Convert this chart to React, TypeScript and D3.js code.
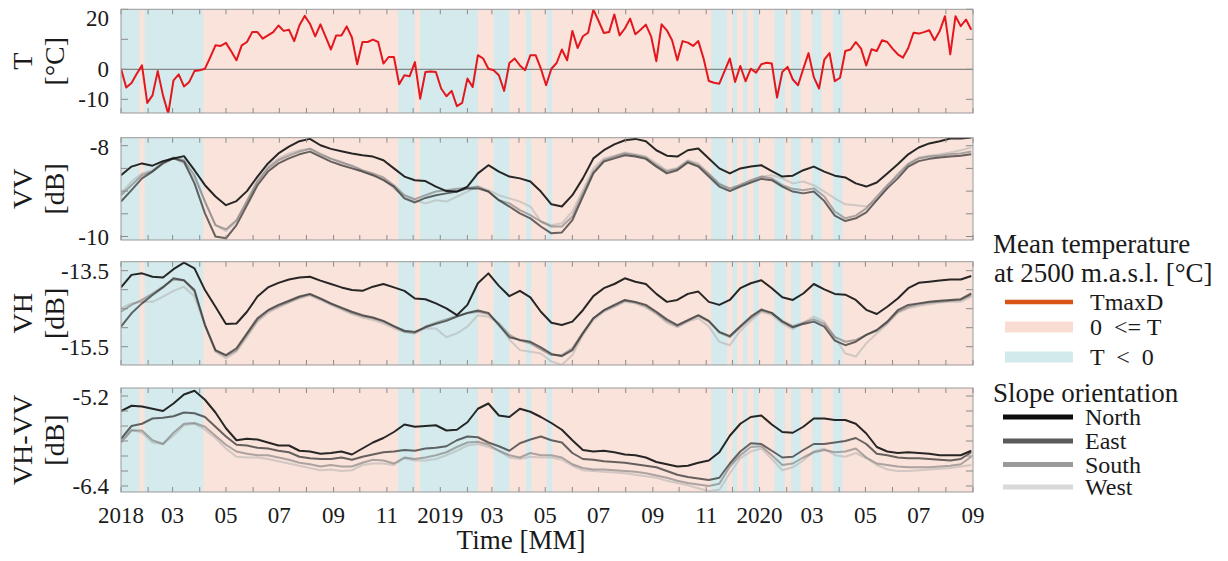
import React, { useEffect, useRef } from 'react';
import * as d3 from 'd3';

const WIDTH = 1228;
const HEIGHT = 561;
const FONT = "'Liberation Serif', 'Times New Roman', serif";

// time axis: Jan 2018 .. Sep 2020
const startDate = new Date(2018, 0, 1);
const endDate = new Date(2020, 8, 1);

// mean air temperature [°C], one value every 6 days from startDate
const tempValues = [
  0.2, -6.1, -4.6, -1.5, 1.3, -11.2, -8.7, -0.6, -8.7, -14.8,
  -3.7, -1.7, -5.7, -4.2, -0.6, -0.3, 0.2, 4, 8, 7.8,
  8.8, 6, 3, 8, 9.1, 12.4, 12.4, 10.2, 11.3, 12.4,
  14.6, 12.8, 13.2, 9.4, 14.7, 17.8, 15.2, 11, 15, 10.8,
  6.6, 11.3, 11.3, 14.3, 10.6, 1.7, 9.1, 9.1, 9.9, 9.1,
  1.9, 4.1, 4.1, -5, -2, -2.3, 2.4, -9.8, -0.9, -0.7,
  -0.9, -6.4, -9, -7.2, -12.3, -11.2, -3.1, -5.9,
  4.7, 3.6, 0.2, -0.3, -2, -7.2, 2.1, 3.6, 1.3, -0.3,
  4.7, 4.7, 0.2, -5.3, 0.2, 2.1, 6.6, 3, 12.8, 7.1,
  11, 12.2, 19.9, 16.1, 12.1, 12.4, 18.3, 11.3, 13.6, 16.9,
  11.7, 13.2, 14.9, 11, 2.7, 15, 13, 9.7, 3, 9.4,
  8.9, 7.8, 9.4, 3.6, -3.9, -4.5, -4.8, -0.6, 3.6, -4.2, 1.1,
  -4, 0.2, -1.1, 1.7, 2.2, 1.9, -9.4, -0.9, 0.8, -3.4,
  -5.3, 0.2, 5.4, -2.6, -6.4, 3.2, 5.4, -4, -2.8, 6.1,
  6.6, 9.1, 6.9, 1.3, 6.7, 6.1, 9.7, 9.1, 6.9, 5,
  3.9, 7.1, 12.2, 11.9, 12.4, 13, 9.7, 12.8, 17.7, 5,
  17.7, 14.4, 16.6, 13.2
];

// periods where T < 0
const coldPeriods = [
  ['2018-01-01', '2018-01-22'],
  ['2018-01-28', '2018-04-05'],
  ['2018-11-14', '2018-12-03'],
  ['2018-12-09', '2019-02-13'],
  ['2019-03-03', '2019-03-21'],
  ['2019-04-09', '2019-04-15'],
  ['2019-05-03', '2019-05-09'],
  ['2019-11-07', '2019-11-25'],
  ['2019-12-01', '2019-12-06'],
  ['2019-12-13', '2019-12-18'],
  ['2019-12-25', '2019-12-31'],
  ['2020-01-18', '2020-01-30'],
  ['2020-02-06', '2020-02-17'],
  ['2020-03-01', '2020-03-12'],
  ['2020-03-25', '2020-04-05']
];

// backscatter [dB] per slope orientation, one value every 12 days from startDate
const vvNorth = [
  -8.65, -8.46, -8.39, -8.44, -8.34, -8.28, -8.23, -8.54, -8.87, -9.12,
  -9.31, -9.22, -9.00, -8.68, -8.39, -8.17, -8.02, -7.90, -7.85, -7.99,
  -8.07, -8.12, -8.17, -8.21, -8.24, -8.32, -8.50, -8.68, -8.76, -8.78,
  -8.90, -9.00, -9.01, -8.90, -8.61, -8.43, -8.57, -8.68, -8.72, -8.79,
  -9.01, -9.29, -9.34, -9.09, -8.72, -8.28, -8.10, -7.97, -7.88, -7.85,
  -7.90, -8.10, -8.22, -8.24, -8.10, -8.06, -8.28, -8.50, -8.61, -8.50,
  -8.46, -8.43, -8.56, -8.68, -8.66, -8.54, -8.46, -8.57, -8.66, -8.70,
  -8.83, -8.90, -8.81, -8.61, -8.41, -8.19, -8.04, -7.95, -7.90, -7.84,
  -7.84, -7.82
];
const vvEast = [
  -9.23, -8.98, -8.72, -8.57, -8.39, -8.28, -8.35, -8.83, -9.49, -10.00,
  -10.04, -9.75, -9.31, -8.87, -8.57, -8.39, -8.28, -8.19, -8.13, -8.24,
  -8.35, -8.43, -8.50, -8.57, -8.65, -8.76, -8.90, -9.16, -9.25, -9.15,
  -9.09, -9.05, -9.01, -8.94, -8.94, -9.01, -9.20, -9.34, -9.49, -9.60,
  -9.78, -9.93, -9.91, -9.64, -9.12, -8.61, -8.35, -8.28, -8.21, -8.24,
  -8.29, -8.46, -8.61, -8.54, -8.37, -8.46, -8.68, -8.90, -9.00, -8.90,
  -8.81, -8.73, -8.76, -8.90, -9.01, -9.05, -9.01, -9.22, -9.54, -9.66,
  -9.60, -9.47, -9.20, -8.94, -8.72, -8.46, -8.34, -8.29, -8.26, -8.24,
  -8.22, -8.19
];
const vvSouth = [
  -9.09, -8.87, -8.65, -8.56, -8.37, -8.26, -8.32, -8.65, -9.23, -9.75,
  -9.84, -9.64, -9.23, -8.79, -8.50, -8.32, -8.22, -8.13, -8.07, -8.19,
  -8.29, -8.37, -8.44, -8.54, -8.61, -8.70, -8.87, -9.09, -9.18, -9.09,
  -9.01, -8.98, -8.95, -8.93, -8.90, -9.01, -9.20, -9.27, -9.42, -9.53,
  -9.67, -9.78, -9.78, -9.56, -9.05, -8.57, -8.32, -8.24, -8.17, -8.21,
  -8.26, -8.43, -8.57, -8.51, -8.34, -8.43, -8.63, -8.85, -8.94, -8.87,
  -8.76, -8.68, -8.72, -8.87, -8.95, -8.98, -8.94, -9.12, -9.45, -9.60,
  -9.54, -9.38, -9.12, -8.87, -8.65, -8.41, -8.28, -8.24, -8.22, -8.19,
  -8.17, -8.13
];
const vvWest = [
  -9.05, -8.79, -8.61, -8.54, -8.37, -8.28, -8.39, -8.72, -9.23, -9.75,
  -9.88, -9.67, -9.20, -8.76, -8.46, -8.28, -8.17, -8.10, -8.06, -8.17,
  -8.28, -8.35, -8.46, -8.56, -8.65, -8.73, -8.94, -9.12, -9.20, -9.27,
  -9.20, -9.23, -9.12, -9.01, -8.90, -8.98, -9.09, -9.16, -9.23, -9.34,
  -9.67, -9.75, -9.71, -9.45, -8.98, -8.50, -8.28, -8.22, -8.15, -8.19,
  -8.24, -8.39, -8.54, -8.49, -8.32, -8.39, -8.61, -8.83, -8.98, -8.85,
  -8.78, -8.68, -8.65, -8.72, -8.83, -8.79, -8.87, -9.01, -9.16, -9.29,
  -9.31, -9.34, -9.20, -8.90, -8.61, -8.39, -8.26, -8.22, -8.19, -8.15,
  -8.10, -8.04
];

const vhNorth = [
  -13.94, -13.61, -13.57, -13.66, -13.68, -13.46, -13.29, -13.44, -14.01, -14.45,
  -14.90, -14.89, -14.58, -14.18, -13.94, -13.82, -13.73, -13.68, -13.66, -13.76,
  -13.85, -13.94, -14.01, -14.03, -13.92, -13.85, -13.94, -14.03, -14.23, -14.25,
  -14.36, -14.49, -14.67, -14.40, -13.83, -13.57, -13.90, -14.17, -14.03, -14.20,
  -14.58, -14.87, -14.93, -14.84, -14.54, -14.17, -13.96, -13.85, -13.70, -13.79,
  -13.85, -14.11, -14.32, -14.27, -14.11, -14.05, -14.32, -14.40, -14.27, -13.96,
  -13.83, -13.75, -13.96, -14.20, -14.27, -14.10, -13.85, -13.99, -14.11, -14.13,
  -14.27, -14.53, -14.64, -14.45, -14.23, -13.96, -13.82, -13.79, -13.76, -13.73,
  -13.73, -13.64
];
const vhEast = [
  -14.97, -14.62, -14.36, -14.14, -13.94, -13.70, -13.75, -14.01, -14.93, -15.59,
  -15.72, -15.54, -15.15, -14.75, -14.54, -14.40, -14.29, -14.18, -14.11, -14.23,
  -14.36, -14.47, -14.58, -14.67, -14.73, -14.82, -14.96, -15.08, -15.11, -14.99,
  -14.90, -14.82, -14.71, -14.61, -14.55, -14.61, -14.93, -15.25, -15.32, -15.37,
  -15.52, -15.69, -15.75, -15.59, -15.15, -14.75, -14.54, -14.40, -14.27, -14.32,
  -14.40, -14.58, -14.78, -14.93, -14.80, -14.67, -14.82, -15.11, -15.22, -14.96,
  -14.71, -14.52, -14.61, -14.84, -14.99, -14.90, -14.84, -14.97, -15.34, -15.46,
  -15.37, -15.19, -15.06, -14.84, -14.54, -14.40, -14.36, -14.32, -14.29, -14.27,
  -14.25, -14.10
];
const vhSouth = [
  -14.58, -14.40, -14.27, -14.10, -13.92, -13.73, -13.76, -14.05, -14.93, -15.61,
  -15.75, -15.59, -15.19, -14.80, -14.56, -14.43, -14.32, -14.20, -14.13, -14.25,
  -14.38, -14.49, -14.61, -14.69, -14.75, -14.84, -14.97, -15.11, -15.13, -14.97,
  -14.87, -14.78, -14.69, -14.62, -14.58, -14.64, -14.89, -15.19, -15.34, -15.41,
  -15.57, -15.72, -15.72, -15.54, -15.13, -14.75, -14.55, -14.43, -14.29, -14.34,
  -14.43, -14.61, -14.82, -14.96, -14.82, -14.69, -14.84, -15.13, -15.25, -14.99,
  -14.75, -14.55, -14.62, -14.82, -14.96, -14.87, -14.78, -14.90, -15.24, -15.37,
  -15.32, -15.19, -15.08, -14.87, -14.58, -14.45, -14.38, -14.34, -14.32, -14.29,
  -14.27, -14.14
];
const vhWest = [
  -14.49, -14.36, -14.32, -14.32, -14.18, -14.03, -13.92, -14.18, -14.93, -15.63,
  -15.81, -15.63, -15.25, -14.84, -14.61, -14.47, -14.34, -14.23, -14.15, -14.27,
  -14.40, -14.52, -14.64, -14.73, -14.80, -14.89, -15.02, -15.11, -15.15, -15.02,
  -15.02, -15.25, -15.15, -14.97, -14.67, -14.71, -14.89, -15.31, -15.59, -15.63,
  -15.68, -15.89, -15.98, -15.72, -15.19, -14.80, -14.58, -14.45, -14.32, -14.36,
  -14.47, -14.64, -14.87, -14.99, -14.84, -14.75, -14.97, -15.37, -15.46, -15.08,
  -14.82, -14.58, -14.67, -14.89, -15.04, -14.87, -14.71, -14.84, -15.25, -15.68,
  -15.76, -15.41, -15.15, -14.90, -14.61, -14.49, -14.43, -14.38, -14.34, -14.32,
  -14.32, -14.18
];

const diffNorth = [
  -5.40, -5.33, -5.34, -5.37, -5.40, -5.30, -5.18, -5.13, -5.25, -5.42,
  -5.63, -5.79, -5.77, -5.78, -5.82, -5.86, -5.86, -5.93, -5.94, -5.97,
  -5.96, -5.94, -5.98, -5.90, -5.82, -5.76, -5.68, -5.58, -5.61, -5.60,
  -5.59, -5.66, -5.65, -5.55, -5.37, -5.30, -5.46, -5.48, -5.37, -5.41,
  -5.48, -5.56, -5.65, -5.79, -5.92, -5.94, -5.93, -5.95, -5.98, -5.99,
  -6.02, -6.08, -6.11, -6.14, -6.13, -6.09, -6.06, -5.95, -5.73, -5.57,
  -5.48, -5.46, -5.58, -5.68, -5.69, -5.61, -5.50, -5.50, -5.52, -5.52,
  -5.57, -5.70, -5.88, -5.94, -5.96, -5.95, -5.96, -5.97, -5.99, -5.99,
  -5.99, -5.93
];
const diffEast = [
  -5.77, -5.60, -5.57, -5.50, -5.49, -5.47, -5.42, -5.43, -5.48, -5.61,
  -5.74, -5.85, -5.86, -5.89, -5.90, -5.93, -5.95, -6.01, -6.03, -6.04,
  -6.04, -6.02, -6.05, -6.01, -5.98, -5.95, -5.94, -5.92, -5.93, -5.90,
  -5.89, -5.87, -5.79, -5.74, -5.75, -5.82, -5.87, -5.93, -5.83, -5.78,
  -5.74, -5.79, -5.82, -5.96, -6.04, -6.05, -6.07, -6.08, -6.09, -6.11,
  -6.13, -6.15, -6.20, -6.25, -6.28, -6.30, -6.32, -6.29, -6.10, -5.94,
  -5.83, -5.84, -5.93, -6.02, -6.01, -5.92, -5.84, -5.84, -5.82, -5.80,
  -5.76, -5.84, -5.97, -5.99, -6.02, -6.03, -6.03, -6.04, -6.05, -6.06,
  -6.04, -5.95
];
const diffSouth = [
  -5.82, -5.66, -5.66, -5.79, -5.84, -5.69, -5.57, -5.56, -5.61, -5.73,
  -5.85, -5.94, -5.97, -5.99, -5.99, -6.02, -6.05, -6.09, -6.11, -6.14,
  -6.12, -6.14, -6.14, -6.09, -6.05, -6.06, -6.10, -6.02, -6.04, -6.02,
  -5.99, -5.95, -5.88, -5.82, -5.81, -5.85, -5.93, -5.99, -6.02, -5.96,
  -5.99, -5.99, -6.02, -6.11, -6.16, -6.18, -6.18, -6.19, -6.20, -6.21,
  -6.23, -6.26, -6.29, -6.33, -6.36, -6.38, -6.40, -6.37, -6.14, -5.99,
  -5.88, -5.87, -5.99, -6.12, -6.10, -6.02, -5.95, -5.92, -5.95, -5.94,
  -5.90, -6.02, -6.10, -6.12, -6.14, -6.15, -6.15, -6.15, -6.14, -6.13,
  -6.11, -6.01
];
const diffWest = [
  -5.79, -5.65, -5.69, -5.82, -5.84, -5.73, -5.59, -5.57, -5.65, -5.76,
  -5.90, -6.01, -6.02, -6.02, -6.04, -6.07, -6.10, -6.13, -6.16, -6.19,
  -6.18, -6.20, -6.19, -6.12, -6.10, -6.10, -6.12, -6.03, -6.06, -6.06,
  -6.04, -5.99, -5.93, -5.86, -5.84, -5.88, -5.93, -6.02, -6.04, -6.01,
  -6.02, -6.02, -6.05, -6.13, -6.19, -6.20, -6.21, -6.22, -6.23, -6.25,
  -6.27, -6.29, -6.33, -6.36, -6.39, -6.43, -6.47, -6.45, -6.23, -6.03,
  -5.94, -5.90, -6.04, -6.19, -6.15, -6.06, -5.94, -5.90, -5.99, -6.01,
  -5.96, -6.03, -6.12, -6.18, -6.20, -6.20, -6.19, -6.18, -6.17, -6.16,
  -6.14, -6.12
];

const slopeNames = ['North', 'East', 'South', 'West'];
const tempLegendLabels = ['TmaxD', '0  <= T', 'T  <  0'];

// colours
const warmFill = '#f9e3db';
const coldFill = '#d5eaec';
const tempColor = '#e3171d';
const slopeColors = ['#111111', '#2e2e2e', '#6e6e6e', '#ababab'];
const slopeOpacity = [0.9, 0.72, 0.55, 0.5];
const legendSlopeColors = ['#0d0d0d', '#5a5a5a', '#9a9a9a', '#d9d9d9'];
const legendTempColors = ['#d95319', '#f9ddd3', '#d3eaed'];

// panel layout (anchors map two values to pixel rows)
const panels = [
  { title: ['T', '[°C]'], top: 9.3, bottom: 113, anchors: [-10, 20], anchorPx: [99.3, 9.3], ticks: [-10, 0, 10, 20], labels: [-10, 0, 20], series: null },
  { title: ['VV', '[dB]'], top: 137.7, bottom: 240, anchors: [-10, -8], anchorPx: [236.5, 145.7], ticks: [-10, -9.5, -9, -8.5, -8], labels: [-10, -8], series: [vvNorth, vvEast, vvSouth, vvWest] },
  { title: ['VH', '[dB]'], top: 261.7, bottom: 365, anchors: [-15.5, -13.5], anchorPx: [346.7, 270.7], ticks: [-15.5, -15, -14.5, -14, -13.5], labels: [-15.5, -13.5], series: [vhNorth, vhEast, vhSouth, vhWest] },
  { title: ['VH-VV', '[dB]'], top: 388, bottom: 492, anchors: [-6.4, -5.2], anchorPx: [486, 396], ticks: [-6.4, -6.2, -6, -5.8, -5.6, -5.4, -5.2], labels: [-6.4, -5.2], series: [diffNorth, diffEast, diffSouth, diffWest] }
];

const parse = d3.timeParse('%Y-%m-%d');

export default function App() {
  const ref = useRef<SVGSVGElement>(null);

  useEffect(() => {
    const svg = d3.select(ref.current);
    svg.selectAll('*').remove();

    const left = 121;
    const right = 973;
    const x = d3.scaleTime().domain([startDate, endDate]).range([left, right]);

    const tempDates = tempValues.map((_, i) => d3.timeDay.offset(startDate, i * 6));
    const sarDates = vvNorth.map((_, i) => d3.timeDay.offset(startDate, i * 12));
    const months = d3.timeMonth.range(startDate, d3.timeMonth.offset(endDate, 1));

    const defs = svg.append('defs');

    panels.forEach((p, pi) => {
      const y = d3.scaleLinear().domain(p.anchors).range(p.anchorPx);
      const h = p.bottom - p.top;
      const g = svg.append('g');

      defs.append('clipPath').attr('id', `clip-${pi}`)
        .append('rect')
        .attr('x', left).attr('y', p.top)
        .attr('width', right - left).attr('height', h);

      // background: warm everywhere, cold periods on top
      g.append('rect')
        .attr('x', left).attr('y', p.top)
        .attr('width', right - left).attr('height', h)
        .attr('fill', warmFill);

      g.selectAll('.cold')
        .data(coldPeriods)
        .join('rect')
        .attr('x', d => x(parse(d[0]) as Date))
        .attr('y', p.top)
        .attr('width', d => x(parse(d[1]) as Date) - x(parse(d[0]) as Date))
        .attr('height', h)
        .attr('fill', coldFill);

      const plot = g.append('g').attr('clip-path', `url(#clip-${pi})`);

      if (!p.series) {
        plot.append('line')
          .attr('x1', left).attr('x2', right)
          .attr('y1', y(0)).attr('y2', y(0))
          .attr('stroke', '#6e6e6e').attr('stroke-width', 1);

        const tLine = d3.line<number>()
          .x((_, i) => x(tempDates[i]))
          .y(d => y(d));

        plot.append('path')
          .attr('d', tLine(tempValues))
          .attr('fill', 'none')
          .attr('stroke', tempColor)
          .attr('stroke-width', 2)
          .attr('stroke-linejoin', 'round');
      } else {
        const sLine = d3.line<number>()
          .x((_, i) => x(sarDates[i]))
          .y(d => y(d));
        // draw West first so North ends up on top
        [3, 2, 1, 0].forEach(si => {
          plot.append('path')
            .attr('d', sLine(p.series[si]))
            .attr('fill', 'none')
            .attr('stroke', slopeColors[si])
            .attr('stroke-opacity', slopeOpacity[si])
            .attr('stroke-width', 2)
            .attr('stroke-linejoin', 'round');
        });
      }

      // monthly ticks, inside, top and bottom
      const tickCol = '#8a8a8a';
      months.forEach(m => {
        const mx = x(m);
        g.append('line').attr('x1', mx).attr('x2', mx).attr('y1', p.top).attr('y2', p.top + 5)
          .attr('stroke', tickCol).attr('stroke-width', 1);
        g.append('line').attr('x1', mx).attr('x2', mx).attr('y1', p.bottom).attr('y2', p.bottom - 5)
          .attr('stroke', tickCol).attr('stroke-width', 1);
      });

      p.ticks.forEach(t => {
        const ty = y(t);
        g.append('line').attr('x1', left).attr('x2', left + 7).attr('y1', ty).attr('y2', ty)
          .attr('stroke', tickCol).attr('stroke-width', 1);
        g.append('line').attr('x1', right).attr('x2', right - 7).attr('y1', ty).attr('y2', ty)
          .attr('stroke', tickCol).attr('stroke-width', 1);
      });

      g.append('rect')
        .attr('x', left).attr('y', p.top)
        .attr('width', right - left).attr('height', h)
        .attr('fill', 'none')
        .attr('stroke', '#999999')
        .attr('stroke-width', 1);

      // y tick labels
      p.labels.forEach(t => {
        g.append('text')
          .attr('x', 109)
          .attr('y', Math.max(y(t), p.top + 9))
          .attr('dy', '0.35em')
          .attr('text-anchor', 'end')
          .attr('font-family', FONT)
          .attr('font-size', 23)
          .attr('fill', '#1a1a1a')
          .text(String(t));
      });

      // y axis title, two rotated lines
      const cy = (p.top + p.bottom) / 2;
      [32, 64].forEach((bx, li) => {
        g.append('text')
          .attr('transform', `translate(${bx},${cy}) rotate(-90)`)
          .attr('text-anchor', 'middle')
          .attr('font-family', FONT)
          .attr('font-size', 28)
          .attr('fill', '#1a1a1a')
          .text(p.title[li]);
      });
    });

    // x tick labels every second month, January shows the year
    const fmtMonth = d3.timeFormat('%m');
    months.filter(m => m.getMonth() % 2 === 0).forEach(m => {
      svg.append('text')
        .attr('x', x(m))
        .attr('y', 523)
        .attr('text-anchor', 'middle')
        .attr('font-family', FONT)
        .attr('font-size', 23)
        .attr('fill', '#1a1a1a')
        .text(m.getMonth() === 0 ? String(m.getFullYear()) : fmtMonth(m));
    });

    svg.append('text')
      .attr('x', 521)
      .attr('y', 549)
      .attr('text-anchor', 'middle')
      .attr('font-family', FONT)
      .attr('font-size', 27)
      .attr('fill', '#1a1a1a')
      .text('Time [MM]');

    // legend
    const lg = svg.append('g').attr('font-family', FONT).attr('fill', '#1a1a1a');
    lg.append('text').attr('x', 993).attr('y', 253).attr('font-size', 27).text('Mean temperature');
    lg.append('text').attr('x', 994).attr('y', 282).attr('font-size', 27).text('at 2500 m.a.s.l. [°C]');

    const tempRows = [302, 327, 357];
    tempLegendLabels.forEach((lab, i) => {
      if (i === 0) {
        lg.append('line').attr('x1', 1005).attr('x2', 1073).attr('y1', tempRows[i]).attr('y2', tempRows[i])
          .attr('stroke', legendTempColors[i]).attr('stroke-width', 4.5);
      } else {
        lg.append('rect').attr('x', 1005).attr('y', tempRows[i] - 5.5).attr('width', 68).attr('height', 11)
          .attr('fill', legendTempColors[i]);
      }
      lg.append('text')
        .attr('x', 1090).attr('y', tempRows[i] + 8)
        .attr('font-size', 24)
        .style('white-space', 'pre')
        .text(lab);
    });

    lg.append('text').attr('x', 993).attr('y', 402).attr('font-size', 27).text('Slope orientation');
    const slopeRows = [417, 441, 464.5, 487];
    slopeNames.forEach((name, i) => {
      lg.append('line').attr('x1', 1003).attr('x2', 1073).attr('y1', slopeRows[i]).attr('y2', slopeRows[i])
        .attr('stroke', legendSlopeColors[i]).attr('stroke-width', 5);
      lg.append('text')
        .attr('x', 1085).attr('y', slopeRows[i] + 8)
        .attr('font-size', 24)
        .text(name);
    });
  }, []);

  return (
    <svg
      ref={ref}
      width={WIDTH}
      height={HEIGHT}
      style={{ position: 'absolute', left: 0, top: 0, background: '#ffffff' }}
    />
  );
}
